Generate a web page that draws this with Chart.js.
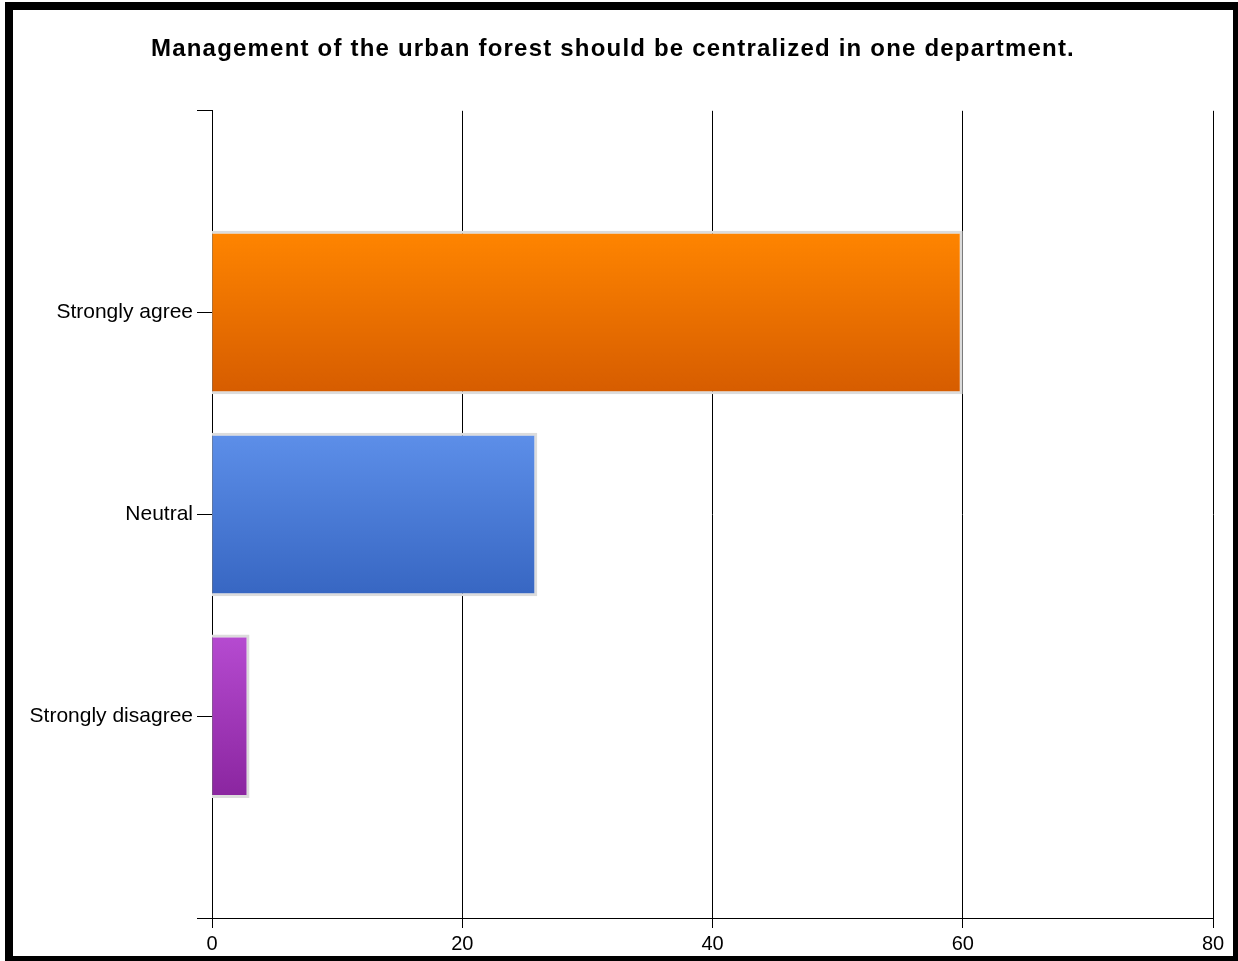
<!DOCTYPE html>
<html>
<head>
<meta charset="utf-8">
<title>Urban forest survey</title>
<script src="https://cdn.jsdelivr.net/npm/chart.js@4.4.1/dist/chart.umd.min.js"></script>
<style>
    html, body { margin: 0; padding: 0; background: #fff; overflow: hidden; }
    #frame {
        position: absolute;
        left: 5px;
        top: 2px;
        width: 1220px;
        height: 946px;
        border: 8px solid #000;
        background: #fff;
    }
    #frame canvas { display: block; }
</style>
</head>
<body>
<div id="frame">
    <canvas id="surveyChart" width="1220" height="946"></canvas>
</div>
<script>
const chartTitle = "Management of the urban forest should be centralized in one department.";
const categories = ["Strongly agree", "Neutral", "Strongly disagree"];
const responses = [60, 26, 3];
const xTicks = [0, 20, 40, 60, 80];

// top and bottom colour of each bar's vertical gradient
const gradTop = ["#ff8500", "#5d8fe9", "#b64bd1"];
const gradBottom = ["#d65c00", "#3766c2", "#8a259f"];

// empty slots above and below so the bars sit on ticks 1..3
const labels = [""].concat(categories, [""]);
const values = [null].concat(responses, [null]);

const FONT = "'Liberation Sans', Arial, sans-serif";
const BAR_PCT = 0.81;

function barGradient(context) {
    const chart = context.chart;
    const i = context.dataIndex - 1;
    if (i < 0 || i >= categories.length) return "#fff";
    if (!chart.chartArea || !chart.scales.y) return gradTop[i];
    const y = chart.scales.y;
    const centre = y.getPixelForValue(context.dataIndex);
    const half = (y.getPixelForValue(1) - y.getPixelForValue(0)) * BAR_PCT / 2;
    const g = chart.ctx.createLinearGradient(0, centre - half, 0, centre + half);
    g.addColorStop(0, gradTop[i]);
    g.addColorStop(1, gradBottom[i]);
    return g;
}

// the title is set a little wider than the default glyph spacing
const titleSpacing = {
    id: "titleSpacing",
    afterInit(chart) {
        const block = chart.titleBlock;
        if (!block) return;
        const draw = block.draw;
        block.draw = function(area) {
            chart.ctx.save();
            chart.ctx.letterSpacing = "1.2px";
            draw.call(this, area);
            chart.ctx.restore();
        };
    }
};

new Chart(document.getElementById("surveyChart"), {
    type: "bar",
    data: {
        labels: labels,
        datasets: [{
            data: values,
            base: -0.2,
            backgroundColor: barGradient,
            borderColor: "#dcdcdc",
            borderWidth: 3,
            borderSkipped: false,
            categoryPercentage: 1,
            barPercentage: BAR_PCT
        }]
    },
    plugins: [titleSpacing],
    options: {
        indexAxis: "y",
        responsive: false,
        animation: false,
        layout: { padding: { top: 0, right: 20, bottom: 0, left: 0 } },
        plugins: {
            legend: { display: false },
            tooltip: { enabled: false },
            title: {
                display: true,
                text: chartTitle,
                color: "#000",
                font: { family: FONT, size: 24, weight: "bold" },
                padding: { top: 25, bottom: 47 }
            }
        },
        scales: {
            x: {
                type: "linear",
                min: 0,
                max: 80,
                afterBuildTicks: function(axis) {
                    axis.ticks = xTicks.map(v => ({ value: v }));
                },
                afterFit: function(axis) { axis.height = 38; },
                grid: {
                    color: "#000",
                    lineWidth: 1,
                    tickLength: 10,
                    drawOnChartArea: true
                },
                border: { color: "#000", width: 1 },
                ticks: {
                    color: "#000",
                    padding: 4,
                    font: { family: FONT, size: 20 }
                }
            },
            y: {
                offset: false,
                z: 1,
                afterFit: function(axis) { axis.width = 199; },
                grid: {
                    offset: false,
                    color: "#000",
                    lineWidth: 1,
                    tickLength: 15,
                    drawOnChartArea: false
                },
                border: { color: "#000", width: 1 },
                ticks: {
                    color: "#000",
                    padding: 4,
                    autoSkip: false,
                    font: { family: FONT, size: 21 }
                }
            }
        }
    }
});
</script>
</body>
</html>
